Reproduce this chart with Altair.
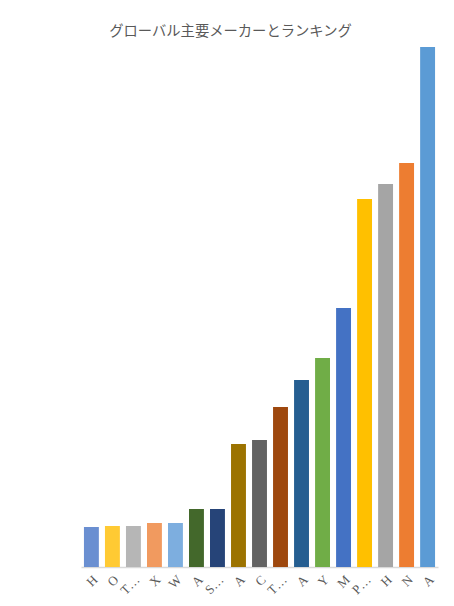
import altair as alt
import pandas as pd

labels = ["H", "O", "T…", "X", "W", "A", "S…", "A", "C", "T…", "A", "Y", "M", "P…", "H", "N", "A"]
values = [40, 41, 41, 44, 44, 58, 58, 123, 127, 160, 187, 209, 259, 368, 383, 404, 520]
colors = ["#6A8FD1", "#FFCA33", "#B6B6B6", "#F19A5F", "#7DAEDF", "#43682B", "#264478",
          "#9C7300", "#636363", "#9E480E", "#255E91", "#70AD47", "#4472C4", "#FFC000",
          "#A5A5A5", "#ED7D31", "#5B9BD5"]

df = pd.DataFrame({"idx": list(range(len(labels))), "label": labels, "value": values, "color": colors})

label_expr = "[" + ",".join(f"'{l}'" for l in labels) + "][datum.value]"

chart = alt.Chart(df).mark_bar().encode(
    x=alt.X("idx:O", title=None,
            scale=alt.Scale(paddingInner=0.29, paddingOuter=0.14),
            axis=alt.Axis(labelExpr=label_expr, labelAngle=-45, labelFont="Liberation Serif",
                          labelFontSize=13, labelColor="#595959", ticks=False,
                          domainColor="#D9D9D9", domainWidth=1.5, labelPadding=6)),
    y=alt.Y("value:Q", axis=None, scale=alt.Scale(domain=[0, 520], nice=False)),
    color=alt.Color("color:N", scale=None),
).properties(
    width=357, height=520,
    title=alt.TitleParams("グローバル主要メーカーとランキング", font="Noto Sans CJK JP",
                          fontSize=14.3, fontWeight="normal", color="#595959", dx=-29, offset=8),
    autosize=alt.AutoSizeParams(type="none"),
    padding={"left": 73, "top": 39, "right": 8, "bottom": 31},
).configure_view(stroke=None)

chart.save("out.html", embed_options={"renderer": "svg", "actions": False})
